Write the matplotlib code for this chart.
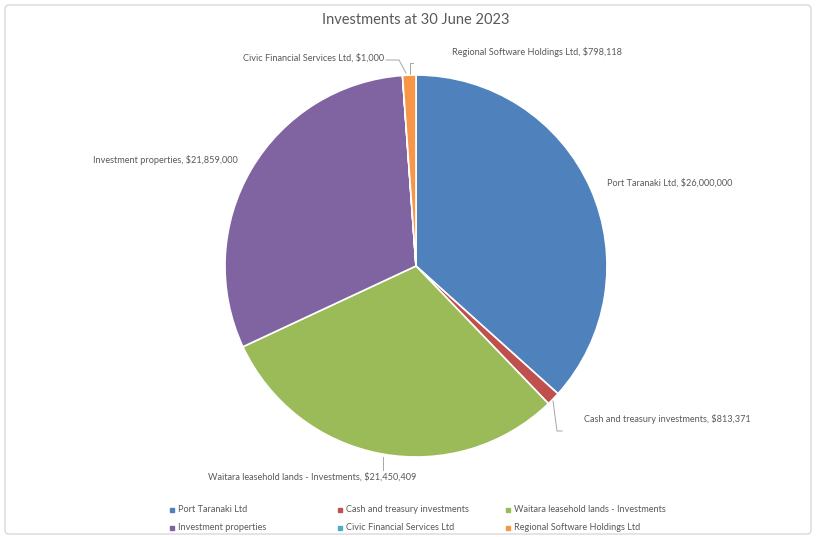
import matplotlib
matplotlib.use("Agg")
import matplotlib.pyplot as plt
from matplotlib.patches import Rectangle, FancyBboxPatch

# data
names = ["Port Taranaki Ltd", "Cash and treasury investments",
         "Waitara leasehold lands - Investments", "Investment properties",
         "Civic Financial Services Ltd", "Regional Software Holdings Ltd"]
values = [26000000, 813371, 21450409, 21859000, 1000, 798118]
colors = ["#4F81BD", "#C0504D", "#9BBB59", "#8064A2", "#4BACC6", "#F79646"]

plt.rcParams['font.family'] = ['Lato', 'DejaVu Sans']
W, H = 816, 537
fig = plt.figure(figsize=(W / 100, H / 100), dpi=100)
ax = fig.add_axes([0, 0, 1, 1])

# chart border
ax.add_patch(FancyBboxPatch((5, 3), W - 10, H - 8, boxstyle="round,pad=0,rounding_size=4",
                            fill=False, edgecolor="#d9d9d9", lw=1))

cx, cy, r = 416, H - 266, 191
wedges, _ = ax.pie(values, colors=colors, startangle=90, counterclock=False,
                   center=(cx, cy), radius=r, frame=True,
                   wedgeprops=dict(edgecolor="white", linewidth=1.2))
ax.set_xlim(0, W)
ax.set_ylim(0, H)
ax.set_aspect("equal")
ax.axis("off")

txt = "#595959"
fs = 6.6


def lab(i, x, y, ha="left"):
    ax.text(x, H - y, f"{names[i]}, ${values[i]:,}", fontsize=fs, color=txt,
            ha=ha, va="center")


def line(pts):
    ax.plot([p[0] for p in pts], [H - p[1] for p in pts], color="#a6a6a6", lw=0.7)


lab(0, 607, 183)
lab(1, 584, 419)
line([(553, 401), (557, 431), (562, 431)])
lab(2, 416, 477, ha="right")
line([(383, 457), (383, 470)])
lab(3, 238, 160, ha="right")
lab(4, 384, 58, ha="right")
line([(386, 60), (399, 60), (406, 73)])
lab(5, 452, 52)
line([(410, 74), (410, 63), (413, 63)])

ax.text(416, H - 20, "Investments at 30 June 2023", fontsize=10.5, color="#595959",
        ha="center", va="center")

# legend
leg_x = [172, 340, 508]
leg_y = [510, 528]
for i, name in enumerate(names):
    x = leg_x[i % 3]
    y = leg_y[i // 3]
    ax.add_patch(Rectangle((x - 2, H - y - 2), 4, 4, color=colors[i]))
    ax.text(x + 6, H - y, name, fontsize=fs, color=txt, va="center")

fig.savefig("out.png", dpi=100)
